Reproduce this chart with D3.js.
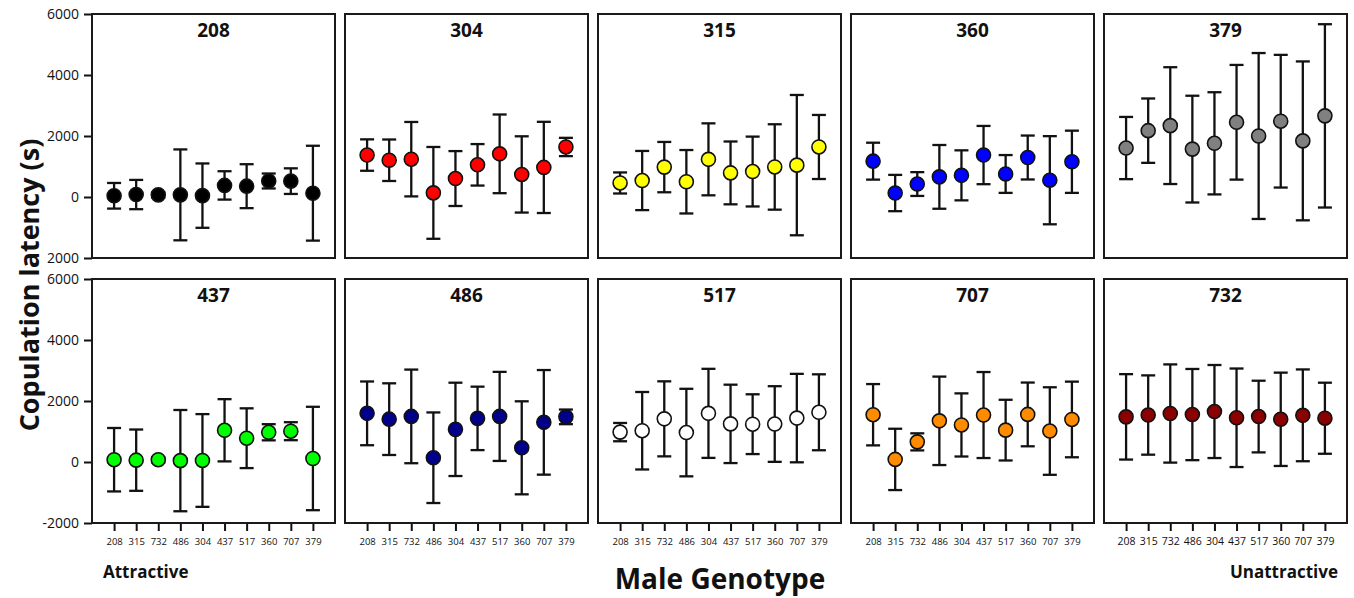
<!DOCTYPE html>
<html>
<head>
<meta charset="utf-8">
<script src="https://cdn.jsdelivr.net/npm/d3@7"></script>
<style>
    body { margin: 0; background: #fff; }
    svg text { font-family: "Open Sans", Lato, sans-serif; fill: #111; }
</style>
</head>
<body>
<div id="chart"></div>
<script>

// female genotypes, one panel each
const panelGenotypes = ["208", "304", "315", "360", "379", "437", "486", "517", "707", "732"];
const panelColors = ["#000000", "#ff0000", "#ffff00", "#0000ff", "#808080",
                     "#00ff00", "#00008b", "#ffffff", "#ff8c00", "#8b0000"];

// male genotypes on x, attractive -> unattractive
const maleGenotypes = ["208", "315", "732", "486", "304", "437", "517", "360", "707", "379"];

// mean copulation latency (s), one row per panel
const meanLatency = [
    [40, 80, 70, 70, 45, 380, 355, 525, 520, 125],
    [1375, 1205, 1240, 135, 605, 1055, 1415, 740, 970, 1640],
    [460, 540, 980, 500, 1235, 790, 835, 985, 1045, 1640],
    [1175, 130, 425, 660, 710, 1375, 755, 1295, 550, 1155],
    [1605, 2175, 2340, 1570, 1760, 2450, 2000, 2485, 1840, 2660],
    [75, 60, 75, 45, 50, 1040, 780, 975, 1010, 115],
    [1595, 1405, 1495, 140, 1070, 1430, 1495, 465, 1300, 1480],
    [980, 1025, 1415, 965, 1595, 1250, 1240, 1245, 1440, 1630],
    [1550, 85, 660, 1350, 1215, 1540, 1045, 1560, 1015, 1395],
    [1480, 1540, 1590, 1555, 1655, 1450, 1490, 1400, 1530, 1435]
];

// error bar half length (s)
const errLatency = [
    [420, 480, 90, 1490, 1055, 465, 720, 245, 420, 1555],
    [515, 680, 1220, 1505, 900, 680, 1290, 1250, 1495, 300],
    [345, 970, 825, 1040, 1180, 1030, 1145, 1400, 2300, 1050],
    [605, 595, 390, 1045, 820, 955, 620, 720, 1445, 1020],
    [1020, 1055, 1915, 1750, 1675, 1880, 2720, 2175, 2605, 3005],
    [1040, 1005, 90, 1660, 1520, 1020, 980, 265, 295, 1695],
    [1045, 1175, 1535, 1485, 1530, 1040, 1460, 1525, 1715, 240],
    [300, 1270, 1230, 1435, 1460, 1285, 980, 1240, 1450, 1245],
    [1005, 1005, 280, 1450, 1035, 1410, 995, 1045, 1435, 1240],
    [1400, 1300, 1610, 1495, 1525, 1615, 1175, 1530, 1505, 1165]
];

// y ticks and their printed labels (top row shows no minus sign)
const yTicks = [-2000, 0, 2000, 4000, 6000];
const yTickLabelsTop = ["2000", "0", "2000", "4000", "6000"];
const yTickLabelsBottom = ["-2000", "0", "2000", "4000", "6000"];


class FacetVis {

    constructor(parentElement, panels, colors, males, means, errs) {
        this.parentElement = parentElement;
        this.panels = panels;
        this.colors = colors;
        this.males = males;
        this.means = means;
        this.errs = errs;

        this.initVis()
    }

    initVis() {
        let vis = this;

        vis.width = 1354;
        vis.height = 598;

        // panel grid
        vis.left = 92;
        vis.tops = [14, 279];
        vis.step = 253;
        vis.pw = 243;
        vis.ph = 244;

        vis.svg = d3.select("#" + vis.parentElement).append("svg")
            .attr("width", vis.width)
            .attr("height", vis.height);

        // scales shared by every panel
        vis.x = d3.scalePoint()
            .domain(vis.males)
            .range([0, vis.pw])
            .padding(1);

        vis.y = d3.scaleLinear()
            .domain([-2000, 6000])
            .range([vis.ph, 0]);

        // axis titles
        vis.svg.append("text")
            .attr("transform", "translate(39, 285) rotate(-90)")
            .attr("text-anchor", "middle")
            .style("font-size", "27px")
            .style("font-weight", "bold")
            .text("Copulation latency (s)");

        vis.svg.append("text")
            .attr("x", 720)
            .attr("y", 589)
            .attr("text-anchor", "middle")
            .style("font-size", "28px")
            .style("font-weight", "bold")
            .text("Male Genotype");

        vis.svg.append("text")
            .attr("x", 103)
            .attr("y", 578)
            .style("font-size", "17px")
            .style("font-weight", "bold")
            .text("Attractive");

        vis.svg.append("text")
            .attr("x", 1338)
            .attr("y", 578)
            .attr("text-anchor", "end")
            .style("font-size", "17px")
            .style("font-weight", "bold")
            .text("Unattractive");

        vis.wrangleData();
    }

    wrangleData() {
        let vis = this;

        vis.displayData = vis.panels.map((g, i) => ({
            genotype: g,
            color: vis.colors[i],
            row: Math.floor(i / 5),
            col: i % 5,
            points: vis.males.map((m, j) => ({male: m, mean: vis.means[i][j], err: vis.errs[i][j]}))
        }));

        vis.updateVis();
    }

    updateVis() {
        let vis = this;

        let panel = vis.svg.selectAll(".panel")
            .data(vis.displayData)
            .enter().append("g")
            .attr("class", "panel")
            .attr("transform", d => `translate(${vis.left + d.col * vis.step}, ${vis.tops[d.row]})`);

        // y axis on the first column only
        panel.filter(d => d.col === 0).each(function (d) {
            let labels = d.row === 0 ? yTickLabelsTop : yTickLabelsBottom;
            let axis = d3.select(this).append("g")
                .call(d3.axisLeft(vis.y)
                    .tickValues(yTicks)
                    .tickSize(8)
                    .tickPadding(5)
                    .tickFormat((t, i) => labels[i]));
            axis.select(".domain").remove();
            axis.selectAll("line").attr("stroke", "#111").attr("stroke-width", 2);
            axis.selectAll("text").style("font-size", "14px");
        });

        // x axis on the bottom row
        panel.filter(d => d.row === 1).each(function (d) {
            let axis = d3.select(this).append("g")
                .attr("transform", `translate(0, ${vis.ph})`)
                .call(d3.axisBottom(vis.x).tickSize(8).tickPadding(7));
            axis.select(".domain").remove();
            axis.selectAll("line").attr("stroke", "#111").attr("stroke-width", 2);
            axis.selectAll("text").style("font-size", d.col === 4 ? "10.5px" : "9.5px");
        });

        // panel frame
        panel.append("rect")
            .attr("width", vis.pw)
            .attr("height", vis.ph)
            .attr("fill", "none")
            .attr("stroke", "#1a1a1a")
            .attr("stroke-width", 2);

        // panel title
        panel.append("text")
            .attr("x", vis.pw / 2)
            .attr("y", 23)
            .attr("text-anchor", "middle")
            .style("font-size", "19px")
            .style("font-weight", "bold")
            .text(d => d.genotype);

        // error bars
        let bars = panel.selectAll(".bar")
            .data(d => d.points)
            .enter().append("g")
            .attr("class", "bar")
            .attr("stroke", "#111")
            .attr("stroke-width", 2.3);

        bars.append("line")
            .attr("x1", d => vis.x(d.male))
            .attr("x2", d => vis.x(d.male))
            .attr("y1", d => vis.y(d.mean + d.err))
            .attr("y2", d => vis.y(d.mean - d.err));

        bars.append("line")
            .attr("x1", d => vis.x(d.male) - 7)
            .attr("x2", d => vis.x(d.male) + 7)
            .attr("y1", d => vis.y(d.mean + d.err))
            .attr("y2", d => vis.y(d.mean + d.err));

        bars.append("line")
            .attr("x1", d => vis.x(d.male) - 7)
            .attr("x2", d => vis.x(d.male) + 7)
            .attr("y1", d => vis.y(d.mean - d.err))
            .attr("y2", d => vis.y(d.mean - d.err));

        // means
        panel.selectAll(".dot")
            .data(d => d.points.map(p => ({...p, color: d.color})))
            .enter().append("circle")
            .attr("class", "dot")
            .attr("cx", d => vis.x(d.male))
            .attr("cy", d => vis.y(d.mean))
            .attr("r", 7)
            .attr("fill", d => d.color)
            .attr("stroke", "#111")
            .attr("stroke-width", 1.6);
    }
}

new FacetVis("chart", panelGenotypes, panelColors, maleGenotypes, meanLatency, errLatency);

</script>
</body>
</html>
